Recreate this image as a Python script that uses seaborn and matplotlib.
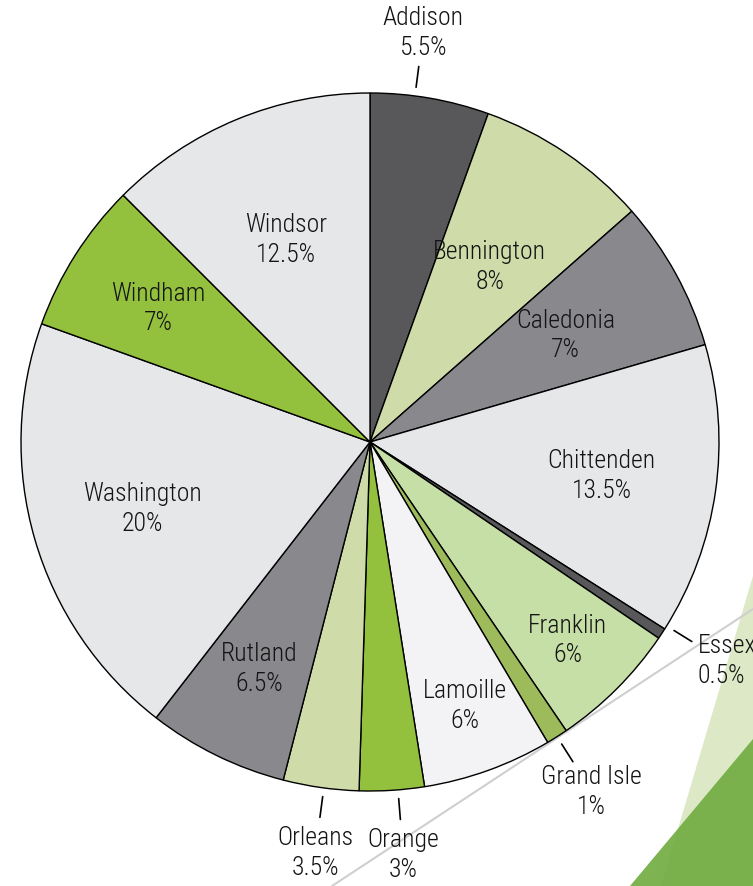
import numpy as np
import matplotlib
matplotlib.use("Agg")
import matplotlib.pyplot as plt
import seaborn as sns
from matplotlib.patches import Polygon

sns.set_theme(style="white")
plt.rcParams["font.family"] = ["Roboto Condensed", "DejaVu Sans"]
plt.rcParams["font.weight"] = 300

# ================= Data =================
counties = ["Addison", "Bennington", "Caledonia", "Chittenden", "Essex", "Franklin",
            "Grand Isle", "Lamoille", "Orange", "Orleans", "Rutland", "Washington",
            "Windham", "Windsor"]
shares = [5.5, 8, 7, 13.5, 0.5, 6, 1, 6, 3, 3.5, 6.5, 20, 7, 12.5]
share_labels = ["5.5%", "8%", "7%", "13.5%", "0.5%", "6%", "1%", "6%", "3%", "3.5%",
                "6.5%", "20%", "7%", "12.5%"]

# ================= Style =================
colors = ["#58585a", "#cfdcaa", "#89888d", "#e6e7e9", "#58585a", "#c6dfa6",
          "#9dbb5a", "#f3f3f5", "#93c13e", "#cfdcaa", "#89888d", "#e6e7e9",
          "#93c13e", "#e6e7e9"]
# label distance (fraction of radius); outer labels get a leader tick
label_r = {"Windsor": 0.63, "Bennington": 0.61, "Caledonia": 0.64, "Chittenden": 0.67,
           "Franklin": 0.80, "Lamoille": 0.80, "Rutland": 0.72, "Washington": 0.68,
           "Windham": 0.72}
outer = {"Addison": -2.5, "Essex": -1.5, "Grand Isle": 0, "Orange": -1.0, "Orleans": -0.5}
text_color = "#141414"
fs = 18.5

W, H = 753, 887
cx, cy, R = 370, H - 443, 349

fig = plt.figure(figsize=(W / 100, H / 100), dpi=100)
ax = fig.add_axes([0, 0, 1, 1])

# background decoration (bottom-right slide ornament)
ax.add_patch(Polygon([(661, 0), (W, H - 577), (W, 0)], closed=True,
                     facecolor="#dde9c6", edgecolor="none", zorder=0))
ax.add_patch(Polygon([(630, 0), (W, H - 740), (W, 0)], closed=True,
                     facecolor="#72ad42", alpha=0.92, edgecolor="none", zorder=0.5))
ax.plot([332, W], [0, H - 610], color="#cfcfcf", lw=1.5, zorder=0.8)

wedges, _ = ax.pie(shares, colors=colors, startangle=90, counterclock=False,
                   center=(cx, cy), radius=R, frame=True,
                   wedgeprops=dict(edgecolor="black", linewidth=1.0))
for w in wedges:
    w.set_zorder(2)
ax.set_xlim(0, W)
ax.set_ylim(0, H)
ax.set_aspect("equal")
ax.axis("off")

cum = np.cumsum([0] + shares)
mids = (cum[:-1] + cum[1:]) / 2 / 100 * 360  # clockwise from top

for name, lab, th in zip(counties, share_labels, mids):
    if name in outer:
        t = np.deg2rad(th + outer[name])
        sx, sy = np.sin(t), np.cos(t)
        ax.plot([cx + 1.025 * R * sx, cx + 1.085 * R * sx],
                [cy + 1.025 * R * sy, cy + 1.085 * R * sy],
                color="black", lw=1.2, zorder=3)
        rr = 1.185
        ha = "left" if name == "Essex" else "center"
        x = 698 if name == "Essex" else cx + rr * R * sx
        ax.text(x, cy + rr * R * sy, f"{name}\n{lab}", ha=ha, va="center",
                fontsize=fs, color=text_color, linespacing=1.3, zorder=4)
    else:
        t = np.deg2rad(th)
        rr = label_r[name]
        ax.text(cx + rr * R * np.sin(t), cy + rr * R * np.cos(t), f"{name}\n{lab}",
                ha="center", va="center", fontsize=fs, color=text_color,
                linespacing=1.3, zorder=4)

fig.savefig("out.png", dpi=100, facecolor="white")
